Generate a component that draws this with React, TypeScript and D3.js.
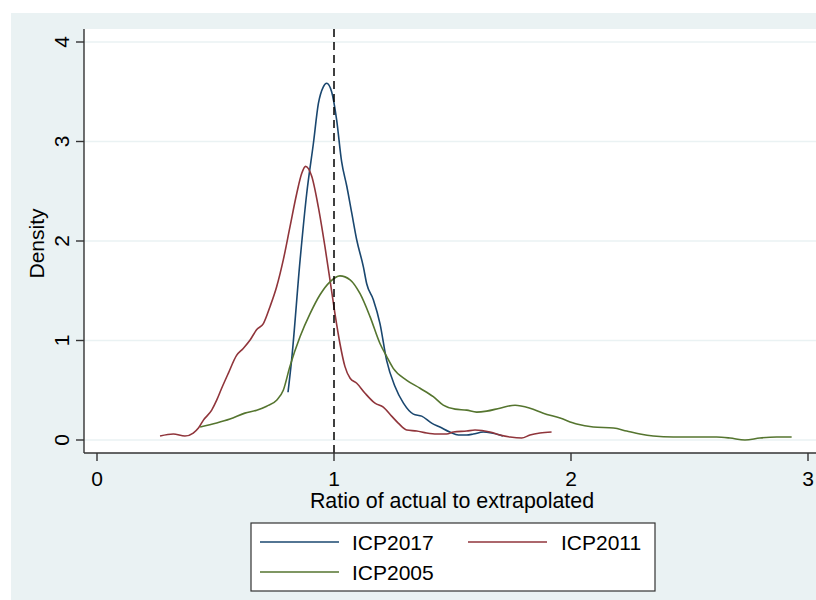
import React from "react";
import * as d3 from "d3";

const icp2017X = [0.806, 0.821, 0.857, 0.885, 0.913, 0.934, 0.955, 0.969, 0.990, 1.011, 1.032, 1.054, 1.075, 1.096, 1.124, 1.138, 1.166, 1.194, 1.222, 1.257, 1.293, 1.335, 1.370, 1.412, 1.447, 1.489, 1.525, 1.560, 1.588, 1.630, 1.665, 1.700, 1.713];
const icp2017Y = [0.48, 0.80, 1.81, 2.48, 2.98, 3.38, 3.55, 3.585, 3.50, 3.22, 2.80, 2.55, 2.28, 2.01, 1.74, 1.57, 1.41, 1.17, 0.80, 0.54, 0.37, 0.26, 0.24, 0.17, 0.13, 0.08, 0.05, 0.05, 0.06, 0.08, 0.07, 0.05, 0.04];

const icp2011X = [0.266, 0.322, 0.371, 0.406, 0.428, 0.449, 0.484, 0.505, 0.526, 0.554, 0.589, 0.617, 0.646, 0.674, 0.702, 0.730, 0.758, 0.786, 0.814, 0.843, 0.864, 0.880, 0.906, 0.934, 0.962, 0.983, 1.004, 1.025, 1.046, 1.068, 1.096, 1.131, 1.173, 1.208, 1.243, 1.271, 1.307, 1.349, 1.391, 1.433, 1.475, 1.504, 1.560, 1.595, 1.658, 1.700, 1.743, 1.792, 1.827, 1.869, 1.918];
const icp2011Y = [0.04, 0.06, 0.04, 0.07, 0.12, 0.20, 0.30, 0.40, 0.52, 0.67, 0.85, 0.92, 1.005, 1.11, 1.17, 1.34, 1.54, 1.81, 2.14, 2.48, 2.68, 2.75, 2.65, 2.34, 1.94, 1.61, 1.27, 0.97, 0.74, 0.62, 0.57, 0.47, 0.37, 0.33, 0.24, 0.17, 0.10, 0.09, 0.07, 0.06, 0.06, 0.08, 0.09, 0.10, 0.08, 0.05, 0.03, 0.02, 0.05, 0.07, 0.08];

const icp2005X = [0.435, 0.505, 0.561, 0.624, 0.674, 0.716, 0.758, 0.786, 0.814, 0.857, 0.899, 0.941, 0.983, 1.025, 1.068, 1.110, 1.152, 1.194, 1.222, 1.250, 1.307, 1.363, 1.419, 1.461, 1.511, 1.560, 1.602, 1.644, 1.700, 1.764, 1.827, 1.883, 1.954, 2.024, 2.094, 2.179, 2.235, 2.291, 2.347, 2.432, 2.516, 2.614, 2.671, 2.734, 2.797, 2.868, 2.931];
const icp2005Y = [0.13, 0.17, 0.21, 0.27, 0.30, 0.34, 0.40, 0.50, 0.74, 1.04, 1.27, 1.46, 1.59, 1.65, 1.61, 1.47, 1.24, 0.97, 0.84, 0.72, 0.60, 0.52, 0.435, 0.35, 0.31, 0.30, 0.28, 0.29, 0.32, 0.35, 0.32, 0.27, 0.22, 0.16, 0.13, 0.12, 0.09, 0.06, 0.04, 0.03, 0.03, 0.03, 0.02, 0.00, 0.02, 0.03, 0.03];

const xTicks = [0, 1, 2, 3];
const yTicks = [0, 1, 2, 3, 4];
const seriesNames = ["ICP2017", "ICP2011", "ICP2005"];
const seriesColors = ["#1a476f", "#90353b", "#55752f"];
const refLineX = 1;

const FONT = "'Liberation Sans', Arial, sans-serif";

export default function App() {
  const W = 816, H = 600;
  const plotL = 84, plotT = 29, plotB = 453, plotR = 816;
  const x = d3.scaleLinear().domain([0, 3]).range([97, 808]);
  const y = d3.scaleLinear().domain([0, 4]).range([440, 42]);
  const line = d3.line<[number, number]>().x(d => x(d[0])).y(d => y(d[1])).curve(d3.curveMonotoneX);
  const series = [
    d3.zip(icp2017X, icp2017Y) as [number, number][],
    d3.zip(icp2011X, icp2011Y) as [number, number][],
    d3.zip(icp2005X, icp2005Y) as [number, number][],
  ];
  const legendPos = [
    { lx: 260, ly: 542, tx: 352 },
    { lx: 468, ly: 542, tx: 561 },
    { lx: 260, ly: 572, tx: 352 },
  ];
  return (
    <svg width={W} height={H} style={{ position: "absolute", left: 0, top: 0 }} fontFamily={FONT}>
      <rect x={0} y={0} width={W} height={H} fill="#ffffff" />
      <rect x={11} y={13} width={W - 11} height={H - 13} fill="#eaf2f3" />
      <rect x={plotL} y={plotT} width={plotR - plotL} height={plotB - plotT} fill="#ffffff" />
      {yTicks.map(t => (
        <line key={"g" + t} x1={plotL} x2={plotR} y1={y(t)} y2={y(t)} stroke="#eaf2f3" strokeWidth={1.5} />
      ))}
      {series.map((s, i) => (
        <path key={seriesNames[i]} d={line(s) || ""} fill="none" stroke={seriesColors[i]} strokeWidth={1.6} />
      ))}
      <line x1={x(refLineX)} x2={x(refLineX)} y1={plotT} y2={plotB} stroke="#000" strokeWidth={1.5} strokeDasharray="8,5" />
      <line x1={plotL} x2={plotL} y1={plotT} y2={plotB} stroke="#333" strokeWidth={1.4} />
      <line x1={plotL} x2={plotR} y1={plotB} y2={plotB} stroke="#333" strokeWidth={1.4} />
      {yTicks.map(t => (
        <g key={"yt" + t}>
          <line x1={plotL - 8} x2={plotL} y1={y(t)} y2={y(t)} stroke="#333" strokeWidth={1.4} />
          <text transform={`translate(68.5,${y(t)}) rotate(-90)`} textAnchor="middle" fontSize={21} fill="#000">{t}</text>
        </g>
      ))}
      {xTicks.map(t => (
        <g key={"xt" + t}>
          <line x1={x(t)} x2={x(t)} y1={plotB} y2={plotB + 8} stroke="#333" strokeWidth={1.4} />
          <text x={x(t)} y={486} textAnchor="middle" fontSize={21} fill="#000">{t}</text>
        </g>
      ))}
      <text x={452} y={508} textAnchor="middle" fontSize={21.4} fill="#000">Ratio of actual to extrapolated</text>
      <text transform="translate(43.5,243.5) rotate(-90)" textAnchor="middle" fontSize={21} fill="#000">Density</text>
      <rect x={251} y={523} width={404} height={68} fill="#ffffff" stroke="#333" strokeWidth={1.2} />
      {seriesNames.map((n, i) => (
        <g key={"lg" + n}>
          <line x1={legendPos[i].lx} x2={legendPos[i].lx + 79} y1={legendPos[i].ly} y2={legendPos[i].ly} stroke={seriesColors[i]} strokeWidth={1.6} />
          <text x={legendPos[i].tx} y={legendPos[i].ly + 8.3} fontSize={21} fill="#000">{n}</text>
        </g>
      ))}
    </svg>
  );
}
